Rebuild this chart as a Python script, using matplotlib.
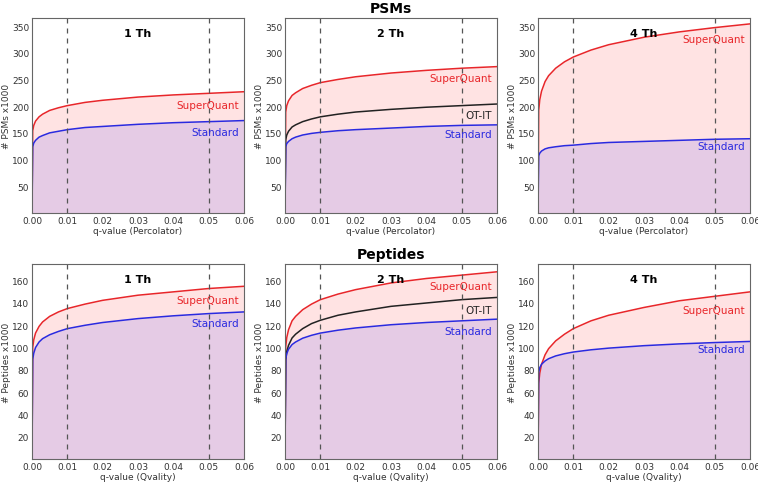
import matplotlib
matplotlib.use('Agg')
from matplotlib import pyplot as plt
import numpy as np

# q-value grid shared by every curve
q_values = [0, 0.0002, 0.0005, 0.001, 0.002, 0.003, 0.005, 0.0075,
            0.01, 0.015, 0.02, 0.03, 0.04, 0.05, 0.06]

# PSMs x1000
psm_1th_superquant = [0, 154, 164, 172, 180, 185, 192, 197, 201, 207, 211, 217, 221, 224, 227]
psm_1th_standard = [0, 124, 131, 136, 142, 145, 150, 153, 156, 160, 162, 166, 169, 171, 173]
psm_2th_superquant = [0, 189, 201, 210, 220, 225, 233, 239, 244, 250, 255, 262, 267, 271, 274]
psm_2th_otit = [0, 137, 146, 153, 161, 165, 171, 176, 180, 185, 189, 194, 198, 201, 204]
psm_2th_standard = [0, 124, 130, 134, 139, 142, 146, 149, 151, 154, 156, 159, 162, 164, 165]
psm_4th_superquant = [0, 192, 212, 228, 246, 257, 271, 283, 292, 305, 315, 329, 339, 347, 354]
psm_4th_standard = [0, 107, 112, 116, 120, 122, 124, 126, 127, 130, 132, 134, 136, 138, 139]

# Peptides x1000
pep_1th_superquant = [0, 100, 107, 113, 119, 123, 128, 132, 135, 139, 142.4, 147, 150, 153, 155]
pep_1th_standard = [0, 89.5, 95, 100, 105, 108, 111.5, 114.5, 117, 120, 122.5, 126, 128.5, 130.5, 132]
pep_2th_superquant = [0, 100.6, 109, 116, 124, 128, 134, 139, 143, 148, 152, 158, 162, 165, 168]
pep_2th_otit = [0, 89, 96.5, 102, 108.6, 112, 117, 121.5, 124.5, 129, 132, 137, 140, 143, 145]
pep_2th_standard = [0, 89.6, 94.6, 98.5, 102.7, 105, 108.4, 111, 113, 115.6, 117.6, 120.5, 122.5, 124, 125.5]
pep_4th_superquant = [0, 68, 77, 85, 93.5, 99, 106, 112, 117, 124, 129, 136, 142, 146, 150]
pep_4th_standard = [0, 78, 82, 85, 88, 90, 92.5, 94.5, 96, 98, 99.5, 101.7, 103.3, 104.5, 105.5]

panel_titles = ['1 Th', '2 Th', '4 Th']
row_titles = ['PSMs', 'Peptides']
y_labels = ['# PSMs x1000', '# Peptides x1000']
x_labels = ['q-value (Percolator)', 'q-value (Qvality)']
y_limits = [365, 175]
y_ticks = [[50, 100, 150, 200, 250, 300, 350], [20, 40, 60, 80, 100, 120, 140, 160]]
x_ticks = [0.00, 0.01, 0.02, 0.03, 0.04, 0.05, 0.06]

rows = [
    [(psm_1th_superquant, None, psm_1th_standard),
     (psm_2th_superquant, psm_2th_otit, psm_2th_standard),
     (psm_4th_superquant, None, psm_4th_standard)],
    [(pep_1th_superquant, None, pep_1th_standard),
     (pep_2th_superquant, pep_2th_otit, pep_2th_standard),
     (pep_4th_superquant, None, pep_4th_standard)],
]

# label heights (data units) for the curve names: superquant, ot-it, standard
label_y = [
    [(203, None, 152), (252, 183, 148), (325, None, 125)],
    [(143, None, 122), (155, 134, 115), (134, None, 99)],
]

RED = '#e8262a'
BLUE = '#2a2ae0'
TEXT = '#333333'

fig = plt.figure(figsize=(7.58, 4.85), dpi=100)
lefts = [32 / 758, 285 / 758, 538 / 758]
bottoms = [1 - 214 / 485, 1 - 460 / 485]
width = 212 / 758
height = 195 / 485

q = np.asarray(q_values)
for r, row in enumerate(rows):
    for c, (sq, ot, std) in enumerate(row):
        ax = fig.add_axes([lefts[c], bottoms[r], width, height])
        ax.fill_between(q, 0, sq, color='red', alpha=0.11, lw=0)
        ax.fill_between(q, 0, std, color='blue', alpha=0.10, lw=0)
        ax.plot(q, sq, color=RED, lw=1.1)
        if ot is not None:
            ax.plot(q, ot, color='#222222', lw=1.1)
        ax.plot(q, std, color=BLUE, lw=1.1)
        for xv in (0.01, 0.05):
            ax.axvline(xv, color='#555555', ls=(0, (4, 4)), lw=0.9)

        ly = label_y[r][c]
        ax.text(0.0585, ly[0], 'SuperQuant', color=RED, fontsize=7.5,
                ha='right', va='center')
        if ly[1] is not None:
            ax.text(0.0585, ly[1], 'OT-IT', color='#222222', fontsize=7.5,
                    ha='right', va='center')
        ax.text(0.0585, ly[2], 'Standard', color=BLUE, fontsize=7.5,
                ha='right', va='center')

        ax.text(0.5, 0.95, panel_titles[c], transform=ax.transAxes,
                ha='center', va='top', fontsize=8, fontweight='bold')
        if c == 1:
            ax.set_title(row_titles[r], fontsize=10, fontweight='bold', pad=4)

        ax.set_xlim(0, 0.06)
        ax.set_ylim(0, y_limits[r])
        ax.set_xticks(x_ticks)
        ax.set_xticklabels([f'{t:.2f}' for t in x_ticks])
        ax.set_yticks(y_ticks[r])
        ax.tick_params(length=0, labelsize=6.5, colors=TEXT, pad=2)
        ax.set_xlabel(x_labels[r], fontsize=6.5, color=TEXT, labelpad=1)
        ax.set_ylabel(y_labels[r], fontsize=6.5, color=TEXT, labelpad=1)
        for s in ax.spines.values():
            s.set_color('#666666')
            s.set_linewidth(0.8)

fig.savefig('out.png', dpi=100)
